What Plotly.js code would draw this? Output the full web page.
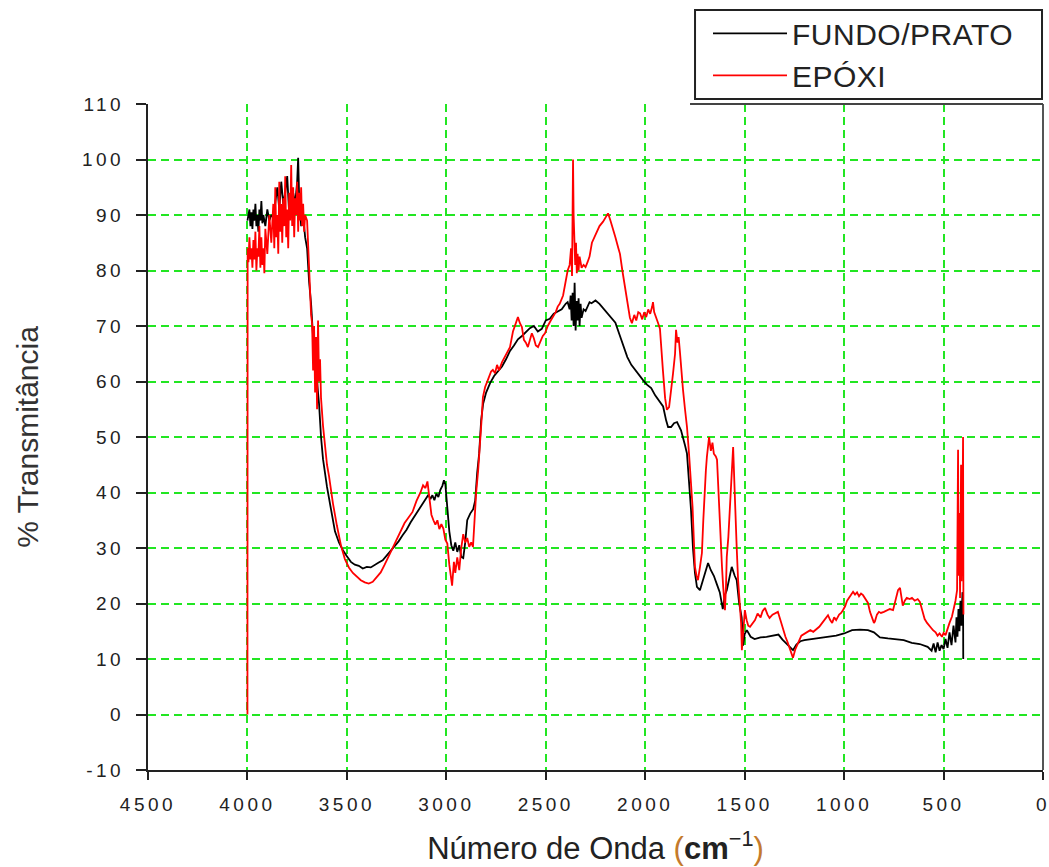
<!DOCTYPE html>
<html>
<head>
<meta charset="utf-8">
<script src="https://cdn.plot.ly/plotly-3.0.1.min.js"></script>
<style>
  html, body { margin: 0; padding: 0; background: #fff; }
  #chart { width: 1049px; height: 867px; }
  .xtick text, .ytick text, .x2tick text, .y2tick text { letter-spacing: 3.5px; }
  .legendtext { letter-spacing: 0.5px; }
</style>
</head>
<body>
<div id="chart"></div>
<script>
// ---- Data ----
const seriesNames = ["FUNDO/PRATO", "EPÓXI"];

const waveFundo = [4000,3990,3985,3980,3975,3970,3965,3960,3955,3950,3945,3940,3935,3930,3925,3920,3910,3900,3890,3880,3870,3860,3850,3840,3830,3820,3810,3800,3790,3780,3770,3760,3750,3745,3740,3730,3720,3710,3700,3690,3680,3670,3660,3650,3640,3630,3620,3600,3580,3560,3540,3520,3500,3480,3460,3440,3420,3400,3380,3360,3340,3320,3300,3280,3260,3240,3220,3200,3180,3160,3140,3120,3100,3090,3080,3070,3060,3050,3040,3030,3020,3012,3005,2995,2985,2975,2965,2955,2945,2935,2925,2915,2905,2895,2880,2865,2855,2845,2835,2825,2815,2800,2780,2760,2740,2720,2700,2680,2660,2640,2620,2600,2580,2560,2540,2520,2500,2480,2460,2440,2420,2400,2390,2380,2375,2370,2365,2360,2355,2350,2345,2340,2335,2330,2325,2320,2310,2300,2290,2280,2270,2250,2230,2210,2190,2170,2150,2130,2110,2090,2070,2050,2030,2010,1990,1970,1950,1930,1910,1895,1885,1870,1855,1840,1820,1800,1790,1780,1770,1760,1750,1740,1725,1710,1695,1684,1670,1655,1640,1625,1610,1600,1590,1575,1565,1550,1540,1528,1515,1508,1500,1489,1470,1450,1420,1390,1360,1330,1310,1290,1270,1257,1240,1220,1200,1160,1120,1080,1040,1000,960,920,880,850,820,780,740,700,660,620,580,560,550,540,530,520,510,500,490,480,470,460,450,440,435,430,425,420,415,410,405,402,401];
const transFundo = [89,91,88,90.5,87.5,91,89,92,88,90,87,91,89,92.5,88.5,90,88,91,89,90,89.5,92,95,91,96,92,94,97,90,93,94,92,96,100.3,93,88,90,86,84,78,74,68,63,60,56,50,46,41,37,33,31,29.6,28.5,27.5,27,26.8,26.3,26.6,26.5,27,27.4,27.8,28.6,29.4,30.4,31.2,32.3,33.3,34.6,35.7,36.8,38,39,39.6,38.8,39.5,38.6,39.8,39.2,40.5,41.2,42.2,41.5,37,33,30.5,29.5,31,29.3,30.5,28.4,28.2,31,35,36.2,37,38.5,43.5,47,53,56,58,59.7,61,61.8,62.7,64,65.5,66.5,67.6,68.2,69,69.6,70,69,69.5,71,71.3,72.2,72.6,73,74,74.3,73,75.5,71,76,70,77.8,69.2,74.5,71,75,70,74,71.5,73,72.7,73.5,74.3,74.1,74.6,74,73.2,72.4,71.5,70.6,68.5,66.5,64.4,63,62,61,60.2,59.4,58.8,57.5,56.5,55.5,53,51.8,51.8,52.5,52.7,51.2,48.5,47,42,37,30,25.5,23,22.4,24.2,26,27.3,26,25,23.5,22,19,21.5,22.4,25,26.6,25,24.2,20.1,17.5,12.4,14.5,15.2,14,13.6,13.9,14,14.2,14.4,13.5,12.8,12,11.6,12.6,13.2,13.4,13.6,13.8,14,14.2,14.6,15.2,15.3,15.2,14.8,13.9,13.7,13.5,13.4,12.9,12.7,12.2,11.5,12.8,11.2,13,11.5,12.5,11.8,13.6,12,14.8,12.5,16,13,17.5,14,19,15,20.5,16,22,21.8,10];

const waveEpoxi = [4000,3999,3995,3990,3985,3980,3975,3970,3965,3960,3955,3950,3945,3940,3935,3930,3925,3920,3915,3910,3900,3890,3880,3870,3865,3860,3855,3850,3845,3840,3835,3830,3825,3820,3815,3810,3805,3800,3795,3790,3785,3780,3775,3770,3765,3760,3755,3750,3745,3740,3735,3730,3725,3720,3715,3710,3700,3690,3680,3675,3670,3665,3660,3655,3650,3645,3640,3635,3630,3620,3610,3600,3590,3570,3550,3530,3510,3490,3470,3450,3430,3410,3390,3370,3350,3330,3310,3290,3270,3250,3230,3210,3190,3170,3150,3130,3117,3105,3095,3085,3075,3065,3055,3045,3035,3025,3015,3005,2995,2985,2978,2971,2962,2955,2945,2935,2925,2915,2905,2895,2885,2875,2866,2858,2850,2840,2831,2823,2816,2805,2791,2775,2766,2755,2745,2735,2720,2700,2680,2665,2650,2640,2630,2620,2610,2600,2590,2580,2570,2560,2550,2539,2525,2515,2504,2490,2475,2464,2450,2440,2430,2413,2400,2390,2380,2373,2368,2363,2360,2357,2352,2348,2344,2340,2335,2330,2320,2310,2300,2290,2280,2268,2255,2243,2230,2212,2200,2187,2175,2165,2150,2135,2127,2115,2105,2095,2087,2077,2067,2055,2045,2035,2026,2015,2005,1995,1985,1975,1965,1961,1955,1945,1935,1926,1918,1911,1900,1891,1880,1870,1860,1850,1845,1838,1832,1825,1815,1810,1800,1790,1780,1770,1762,1755,1750,1742,1735,1725,1715,1708,1703,1695,1690,1684,1679,1670,1662,1655,1645,1639,1632,1625,1620,1614,1608,1604,1599,1594,1590,1582,1574,1566,1558,1552,1546,1540,1533,1525,1518,1514,1508,1499,1490,1482,1473,1460,1448,1435,1420,1410,1398,1385,1375,1360,1345,1333,1320,1307,1295,1285,1275,1265,1257,1245,1235,1225,1215,1205,1187,1170,1155,1140,1125,1110,1095,1081,1070,1060,1050,1040,1025,1015,1006,995,985,970,955,945,935,925,915,905,895,880,870,860,850,845,835,825,815,800,785,770,754,745,737,729,719,712,705,695,685,670,659,645,630,619,605,595,583,570,560,553,540,530,520,508,500,490,480,470,458,448,440,432,429,427,425,422,420,417,414,412,410,407,404,402,401,400];
const transEpoxi = [0,84,81.5,86,82,84,80.5,85.5,82,87,80,84,82.5,88,80.5,86,81,84,79.5,87.5,83,90,85,92,84,95,86,90,83,96,87,92,85,93,88,97,86,91,84,94,89,99,88,95,86,93,90,96,87,94,89,95,88,92,87,90,89,80,72,70.5,62,70,58,68,55,71,60,64,57,52,48,45,43,38,34,30.5,28,26.5,25.5,24.8,24.2,23.8,23.6,23.9,24.8,25.6,27,28.5,30,31.5,33,34.5,35.5,36.5,38.5,40,41.3,40.8,42,39,36,35,34.2,35,33.4,34.3,33.5,31.5,30.8,27,24.5,23.2,27.5,25.5,28.3,26,30,32.5,31,31.8,30.2,31,30.2,36,40,44,48,53,57.2,59,60.3,61.8,62.1,61.5,63,62,63.5,65,66.2,69,70.5,71.6,70.5,69.8,67.5,67,66.2,67.5,68.7,67.8,66.5,66.2,67.5,68.2,68.7,70,71,71.6,72.5,73.5,74,75.5,77.7,80,81,84,79,100,90,86.8,81,85,79.5,83,80,82.5,80.5,81,80.6,81.5,82.5,85,86,87,88,88.8,89.5,90.3,89,87.9,86,84,83,80,77.7,75,73,71.5,70.5,72,71,72.5,72.3,71.2,72.5,71.6,73,72.2,73.5,74.3,72.5,71.6,70.5,69.5,65,62,57,54.9,55.4,58,61.5,65,69.3,67,68,65.1,60,58.5,55,51.8,47.1,42,37.4,31,26.6,25,24.2,26.5,29.1,35,39.2,44,46.4,48.5,50,47.5,49,47,46.5,45.9,40,35,30,26.6,23,20.1,18.8,23,28.4,32,37.4,43.5,48.2,42,37.4,30,24.2,20,16.5,11.6,14,18.8,17,16,15.8,16.5,17,18.2,17.5,18.6,19.2,18,17.4,18,18.2,18.5,17,15.2,14,13.1,12,11,10.2,11.8,12.8,13.4,14.2,14.4,14.9,15.2,14.9,15.4,15.8,16.5,17.2,17.9,17,16.5,17.5,17,18,18.3,18.8,19.5,20.5,21.4,22.1,21.6,22,21.3,21.8,21.5,21,20.1,18.5,17.5,16.5,16.8,18,18.5,18.3,18.5,18.7,19,18.8,20,21.5,22.4,22.8,21.5,19.6,20.5,21,20.8,21,20.5,20.8,20.3,18.5,17.2,16.5,15.8,15.5,15.2,14.8,14.2,14.6,14,14.7,14.3,15.5,16.5,17.6,19,20.5,22.4,35,47.7,25,30,36.3,21,34,45,24,30,40,50,22,18];

const xTickVals = [4500,4000,3500,3000,2500,2000,1500,1000,500,0];
const yTickVals = [-10,0,10,20,30,40,50,60,70,80,90,100,110];
const xGridVals = [4000,3500,3000,2500,2000,1500,1000,500];
const yGridVals = [0,10,20,30,40,50,60,70,80,90,100];
const xAxisTitle = "Número de Onda <span style='color:#c47a2c'>(</span><b>cm</b><sup>−1</sup><span style='color:#c47a2c'>)</span>";
const yAxisTitle = "% Transmitância";

// ---- Styling ----
const fontFam = "Liberation Sans, Arial, sans-serif";
const gridColor = "#22e622";
const xRange = [4500, 0];
const yRange = [-10, 110];

const traces = [
  { x: waveFundo, y: transFundo, name: seriesNames[0], type: "scatter", mode: "lines",
    line: { color: "#000000", width: 1.8 } },
  { x: waveEpoxi, y: transEpoxi, name: seriesNames[1], type: "scatter", mode: "lines",
    line: { color: "#ff0000", width: 1.8 } },
  // empty helper trace so the labelled overlay axes get drawn (no marks)
  { x: [], y: [], xaxis: "x2", yaxis: "y2", type: "scatter", mode: "lines",
    showlegend: false, hoverinfo: "skip" }
];

const layout = {
  width: 1049, height: 867,
  margin: { l: 148, r: 6, t: 104, b: 97, pad: 0 },
  paper_bgcolor: "#ffffff", plot_bgcolor: "#ffffff",
  font: { family: fontFam, color: "#222" },
  showlegend: true,
  legend: {
    x: 0.6257, y: 1.145, xanchor: "left", yanchor: "top",
    bgcolor: "rgba(0,0,0,0)", borderwidth: 0,
    font: { family: fontFam, size: 30, color: "#222" },
    itemwidth: 74, tracegroupgap: 0
  },
  // grid-only axes (carry the data)
  xaxis: {
    range: xRange, autorange: false,
    tickvals: xGridVals, showticklabels: false, ticks: "",
    showline: false, zeroline: false,
    showgrid: true, gridcolor: gridColor, gridwidth: 2, griddash: "8px,5px"
  },
  yaxis: {
    range: yRange, autorange: false,
    tickvals: yGridVals, showticklabels: false, ticks: "",
    showline: false, zeroline: false,
    showgrid: true, gridcolor: gridColor, gridwidth: 2, griddash: "8px,5px"
  },
  // labelled axes
  xaxis2: {
    overlaying: "x", anchor: "y2", side: "bottom",
    range: xRange, autorange: false,
    tickvals: xTickVals, ticktext: xTickVals.map(String),
    ticks: "outside", ticklen: 8, tickwidth: 2, tickcolor: "#222",
    showline: true, linecolor: "#222", linewidth: 2,
    showgrid: false, zeroline: false,
    tickfont: { family: fontFam, size: 19, color: "#222" },
    ticklabelstandoff: 8, ticklabeloverflow: "allow",
    title: { text: xAxisTitle, font: { family: fontFam, size: 31, color: "#222" }, standoff: 24 }
  },
  yaxis2: {
    overlaying: "y", anchor: "x2", side: "left",
    range: yRange, autorange: false,
    tickvals: yTickVals, ticktext: yTickVals.map(String),
    ticks: "outside", ticklen: 10, tickwidth: 2, tickcolor: "#222",
    showline: true, linecolor: "#222", linewidth: 2,
    showgrid: false, zeroline: false,
    tickfont: { family: fontFam, size: 19, color: "#222" },
    ticklabelstandoff: 8, ticklabeloverflow: "allow",
    title: { text: yAxisTitle, font: { family: fontFam, size: 30, color: "#333" }, standoff: 34 }
  },
  shapes: [
    { type: "line", xref: "paper", yref: "paper", x0: 1, x1: 1, y0: 0, y1: 1,
      line: { color: "#555", width: 2 } },
    { type: "line", xref: "paper", yref: "paper", x0: 0.6056, x1: 1, y0: 1, y1: 1,
      line: { color: "#444", width: 2 } },
    { type: "rect", xref: "paper", yref: "paper", x0: 0.6112, x1: 0.9989, y0: 1.0075, y1: 1.1411,
      line: { color: "#222", width: 2 }, fillcolor: "rgba(0,0,0,0)" }
  ]
};

Plotly.newPlot("chart", traces, layout, { displayModeBar: false, staticPlot: true });
</script>
</body>
</html>
